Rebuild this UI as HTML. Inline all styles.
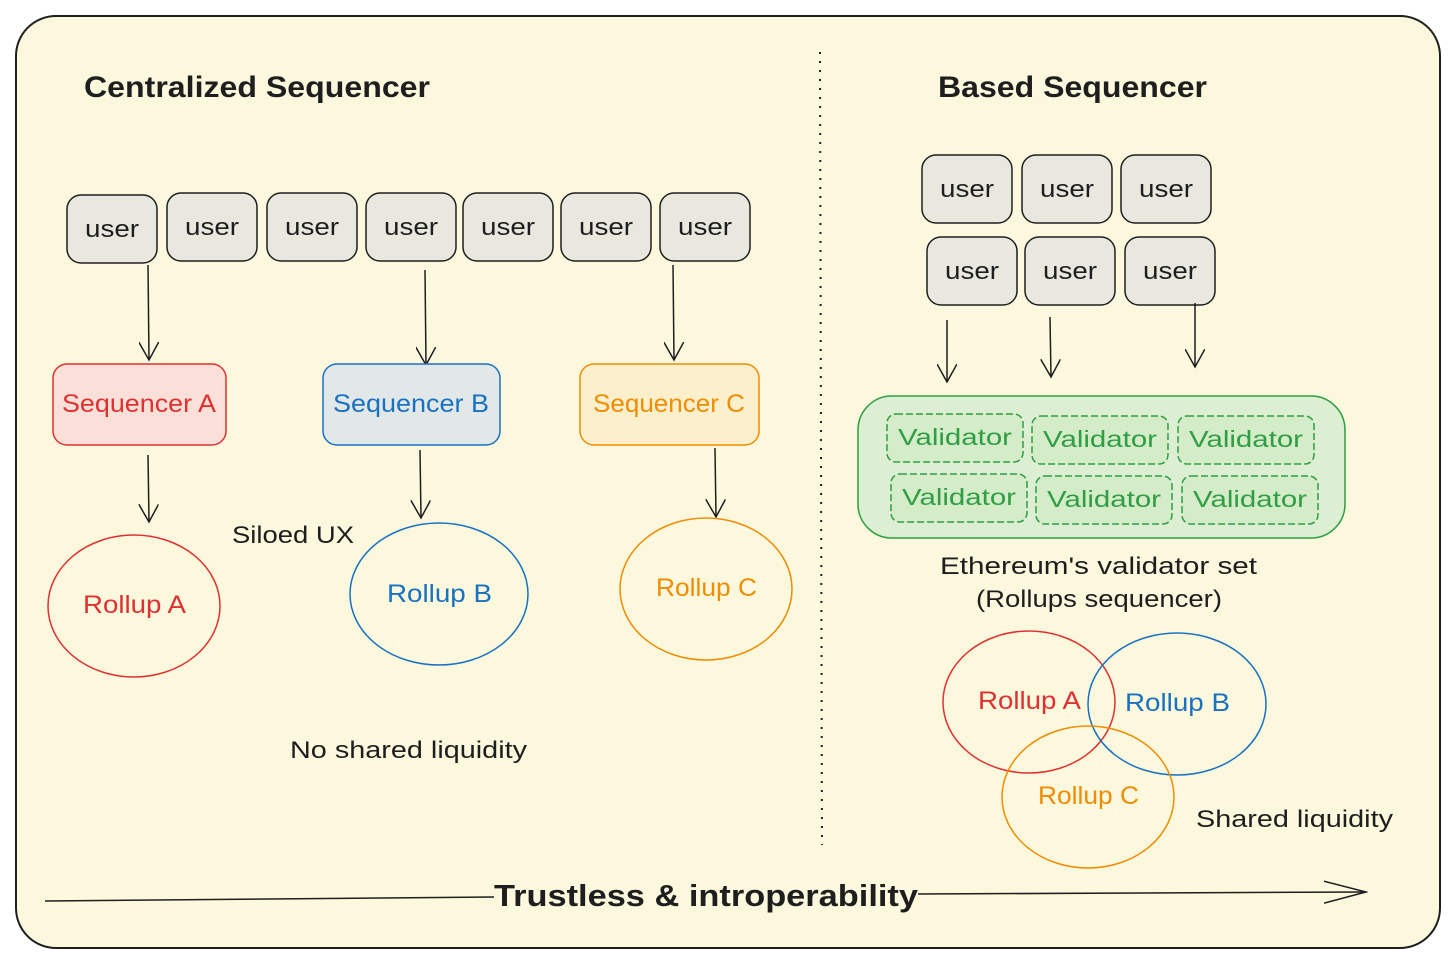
<!DOCTYPE html>
<html><head><meta charset="utf-8"><style>
html,body{margin:0;padding:0;background:#fff}
svg text{font-family:"Liberation Sans",sans-serif}
</style></head><body>
<svg width="1456" height="965" viewBox="0 0 1456 965" xmlns="http://www.w3.org/2000/svg">
<defs>
<marker id="ar" viewBox="0 0 20 20" refX="18" refY="10" markerWidth="20" markerHeight="20" markerUnits="userSpaceOnUse" orient="auto">
<path d="M0,0 L18,10 L0,20" fill="none" stroke="#1e1e1e" stroke-width="1.5"/></marker>
<marker id="ar2" viewBox="0 0 44 24" refX="42" refY="12" markerWidth="44" markerHeight="24" markerUnits="userSpaceOnUse" orient="auto">
<path d="M0,1 L42,12 L0,23" fill="none" stroke="#1e1e1e" stroke-width="1.5"/></marker>
</defs>
<rect x="16" y="16" width="1424" height="932" rx="40" fill="#fbf8dd" stroke="#1e1e1e" stroke-width="2"/>
<line x1="820" y1="52" x2="822" y2="845" stroke="#1e1e1e" stroke-width="2" stroke-dasharray="2 7"/>
<g font-size="30" fill="#1e1e1e" font-weight="bold" lengthAdjust="spacingAndGlyphs">
<text x="84" y="97" textLength="346" lengthAdjust="spacingAndGlyphs">Centralized Sequencer</text>
<text x="938" y="97" textLength="269" lengthAdjust="spacingAndGlyphs">Based Sequencer</text>
</g>
<g fill="#e9e8df" stroke="#1e1e1e" stroke-width="1.5">
<rect x="67" y="195" width="90" height="68" rx="14"/>
<rect x="167" y="193" width="90" height="68" rx="14"/>
<rect x="267" y="193" width="90" height="68" rx="14"/>
<rect x="366" y="193" width="90" height="68" rx="14"/>
<rect x="463" y="193" width="90" height="68" rx="14"/>
<rect x="561" y="193" width="90" height="68" rx="14"/>
<rect x="660" y="193" width="90" height="68" rx="14"/>
<rect x="922" y="155" width="90" height="68" rx="14"/>
<rect x="1022" y="155" width="90" height="68" rx="14"/>
<rect x="1121" y="155" width="90" height="68" rx="14"/>
<rect x="927" y="237" width="90" height="68" rx="14"/>
<rect x="1025" y="237" width="90" height="68" rx="14"/>
<rect x="1125" y="237" width="90" height="68" rx="14"/>
</g>
<g font-size="24" fill="#1e1e1e" text-anchor="middle">
<text x="112" y="237" textLength="54" lengthAdjust="spacingAndGlyphs">user</text><text x="212" y="235" textLength="54" lengthAdjust="spacingAndGlyphs">user</text><text x="312" y="235" textLength="54" lengthAdjust="spacingAndGlyphs">user</text>
<text x="411" y="235" textLength="54" lengthAdjust="spacingAndGlyphs">user</text><text x="508" y="235" textLength="54" lengthAdjust="spacingAndGlyphs">user</text><text x="606" y="235" textLength="54" lengthAdjust="spacingAndGlyphs">user</text>
<text x="705" y="235" textLength="54" lengthAdjust="spacingAndGlyphs">user</text>
<text x="967" y="197" textLength="54" lengthAdjust="spacingAndGlyphs">user</text><text x="1067" y="197" textLength="54" lengthAdjust="spacingAndGlyphs">user</text><text x="1166" y="197" textLength="54" lengthAdjust="spacingAndGlyphs">user</text>
<text x="972" y="279" textLength="54" lengthAdjust="spacingAndGlyphs">user</text><text x="1070" y="279" textLength="54" lengthAdjust="spacingAndGlyphs">user</text><text x="1170" y="279" textLength="54" lengthAdjust="spacingAndGlyphs">user</text>
</g>
<g stroke="#1e1e1e" stroke-width="1.5" fill="none" marker-end="url(#ar)">
<line x1="148" y1="265" x2="149" y2="360"/>
<line x1="425" y1="270" x2="426" y2="365"/>
<line x1="673" y1="265" x2="674" y2="360"/>
<line x1="148" y1="455" x2="149" y2="522"/>
<line x1="420" y1="450" x2="421" y2="518"/>
<line x1="715" y1="448" x2="716" y2="517"/>
<line x1="947" y1="320" x2="947" y2="382"/>
<line x1="1050" y1="317" x2="1051" y2="377"/>
<line x1="1195" y1="303" x2="1195" y2="367"/>
</g>
<rect x="53" y="364" width="173" height="81" rx="14" fill="#fae0d8" stroke="#e03131" stroke-width="1.5"/>
<rect x="323" y="364" width="177" height="81" rx="14" fill="#e2e7e8" stroke="#1971c2" stroke-width="1.5"/>
<rect x="580" y="364" width="179" height="81" rx="14" fill="#fcefcc" stroke="#f08c00" stroke-width="1.5"/>
<g font-size="25">
<text x="62" y="412" fill="#e03131" textLength="154" lengthAdjust="spacingAndGlyphs">Sequencer A</text>
<text x="333" y="412" fill="#1971c2" textLength="156" lengthAdjust="spacingAndGlyphs">Sequencer B</text>
<text x="593" y="412" fill="#f08c00" textLength="152" lengthAdjust="spacingAndGlyphs">Sequencer C</text>
</g>
<ellipse cx="134" cy="606" rx="86" ry="71" fill="none" stroke="#e03131" stroke-width="1.5"/>
<ellipse cx="439" cy="594" rx="89" ry="71" fill="none" stroke="#1971c2" stroke-width="1.5"/>
<ellipse cx="706" cy="589" rx="86" ry="71" fill="none" stroke="#f08c00" stroke-width="1.5"/>
<g font-size="25">
<text x="83" y="613" fill="#e03131" textLength="103" lengthAdjust="spacingAndGlyphs">Rollup A</text>
<text x="387" y="602" fill="#1971c2" textLength="105" lengthAdjust="spacingAndGlyphs">Rollup B</text>
<text x="656" y="596" fill="#f08c00" textLength="101" lengthAdjust="spacingAndGlyphs">Rollup C</text>
</g>
<text x="232" y="543" font-size="24" fill="#1e1e1e" textLength="122" lengthAdjust="spacingAndGlyphs">Siloed UX</text>
<text x="290" y="758" font-size="24" fill="#1e1e1e" textLength="237" lengthAdjust="spacingAndGlyphs">No shared liquidity</text>
<rect x="858" y="396" width="487" height="142" rx="34" fill="#dcefd2" stroke="#2f9e44" stroke-width="1.5"/>
<g fill="#d4ecc8" stroke="#2f9e44" stroke-width="1.5" stroke-dasharray="7 3">
<rect x="887" y="414" width="136" height="48" rx="9"/>
<rect x="1032" y="416" width="136" height="48" rx="9"/>
<rect x="1178" y="416" width="136" height="48" rx="9"/>
<rect x="891" y="474" width="136" height="48" rx="9"/>
<rect x="1036" y="476" width="136" height="48" rx="9"/>
<rect x="1182" y="476" width="136" height="48" rx="9"/>
</g>
<g font-size="23" fill="#2f9e44" text-anchor="middle">
<text x="955" y="445" textLength="114" lengthAdjust="spacingAndGlyphs">Validator</text><text x="1100" y="447" textLength="114" lengthAdjust="spacingAndGlyphs">Validator</text><text x="1246" y="447" textLength="114" lengthAdjust="spacingAndGlyphs">Validator</text>
<text x="959" y="505" textLength="114" lengthAdjust="spacingAndGlyphs">Validator</text><text x="1104" y="507" textLength="114" lengthAdjust="spacingAndGlyphs">Validator</text><text x="1250" y="507" textLength="114" lengthAdjust="spacingAndGlyphs">Validator</text>
</g>
<g font-size="24" fill="#1e1e1e">
<text x="940" y="574" textLength="317" lengthAdjust="spacingAndGlyphs">Ethereum's validator set</text>
<text x="976" y="607" textLength="246" lengthAdjust="spacingAndGlyphs">(Rollups sequencer)</text>
</g>
<ellipse cx="1029" cy="702" rx="86" ry="71" fill="none" stroke="#e03131" stroke-width="1.5"/>
<ellipse cx="1177" cy="704" rx="89" ry="71" fill="none" stroke="#1971c2" stroke-width="1.5"/>
<ellipse cx="1088" cy="797" rx="86" ry="71" fill="none" stroke="#f08c00" stroke-width="1.5"/>
<g font-size="25">
<text x="978" y="709" fill="#e03131" textLength="103" lengthAdjust="spacingAndGlyphs">Rollup A</text>
<text x="1125" y="711" fill="#1971c2" textLength="105" lengthAdjust="spacingAndGlyphs">Rollup B</text>
<text x="1038" y="804" fill="#f08c00" textLength="101" lengthAdjust="spacingAndGlyphs">Rollup C</text>
</g>
<text x="1196" y="827" font-size="24" fill="#1e1e1e" textLength="197" lengthAdjust="spacingAndGlyphs">Shared liquidity</text>
<line x1="45" y1="901" x2="494" y2="897" stroke="#1e1e1e" stroke-width="1.5"/>
<line x1="918" y1="894" x2="1366" y2="892" stroke="#1e1e1e" stroke-width="1.5" marker-end="url(#ar2)"/>
<text x="494" y="906" font-size="31" fill="#1e1e1e" font-weight="bold" textLength="424" lengthAdjust="spacingAndGlyphs">Trustless &amp; introperability</text>
</svg>
</body></html>
